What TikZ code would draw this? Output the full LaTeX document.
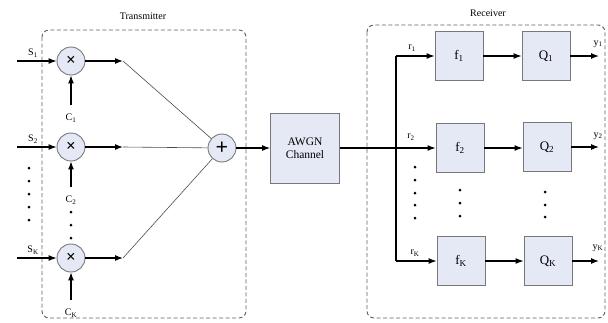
\documentclass[tikz,border=0pt]{standalone}
\usepackage{fontspec}
\setmainfont{Liberation Serif}
\usetikzlibrary{arrows,arrows.meta}
\usetikzlibrary{positioning}
\definecolor{blkfill}{RGB}{228,233,245}
\definecolor{blkline}{RGB}{120,120,120}
\definecolor{boxline}{RGB}{95,95,95}

\begin{document}
\begin{tikzpicture}[x=1pt,y=-1pt,
  mult/.style={circle,draw=blkline,fill=blkfill,line width=0.9pt,minimum size=28pt,inner sep=0pt},
  blk/.style={rectangle,draw=blkline,fill=blkfill,line width=0.9pt,minimum width=48pt,minimum height=49pt,inner sep=0pt,font=\fontsize{13}{14}\selectfont},
  dashbox/.style={draw=boxline,line width=0.9pt,dash pattern=on 4pt off 2.5pt,rounded corners=7pt},
  lbl/.style={font=\fontsize{10}{11}\selectfont,inner sep=0pt},
  sig/.style={-{Latex[length=8pt,width=6pt]},line width=1.1pt},
  wire/.style={line width=0.6pt,black!70}]
\useasboundingbox (0,0) rectangle (608,322);

% dashed boxes
\draw[dashbox] (42,30) rectangle (246,318);
\draw[dashbox] (367,25) rectangle (605,318);
\node[lbl] (tx) at (143,16) {Transmitter};
\node[lbl] (rx) at (488,13) {Receiver};

% multipliers
\node[mult] (m1) at (71,61) {\bfseries\fontsize{17}{17}\selectfont ×};
\node[mult] (m2) at (71,147) {\bfseries\fontsize{17}{17}\selectfont ×};
\node[mult] (mK) at (71,258) {\bfseries\fontsize{17}{17}\selectfont ×};

% inputs S
\coordinate (s1) at (17,61);
\coordinate (s2) at (17,147);
\coordinate (sK) at (17,258);
\draw[sig] (s1) -- (m1);
\draw[sig] (s2) -- (m2);
\draw[sig] (sK) -- (mK);
\node[lbl] (ls1) at (33,53) {S\textsubscript{1}};
\node[lbl] (ls2) at (33,139) {S\textsubscript{2}};
\node[lbl] (lsK) at (33,250) {S\textsubscript{K}};
\foreach \y in {168,181,194,207,220}
  \fill (29,\y) circle (1.5pt);

% codes C
\node[lbl,outer sep=9pt] (c1) at (71,118) {C\textsubscript{1}};
\node[lbl,outer sep=9pt] (c2) at (71,200) {C\textsubscript{2}};
\node[lbl,outer sep=9pt] (cK) at (71,313) {C\textsubscript{K}};
\draw[sig] (c1) -- (m1);
\draw[sig] (c2) -- (m2);
\draw[sig] (cK) -- (mK);
\foreach \y in {212,225,238}
  \fill (71,\y) circle (1.5pt);

% adder
\node[mult] (add) at (222,148) {\bfseries\fontsize{22}{22}\selectfont +};
\coordinate (t1) at (123,61);
\coordinate (t2) at (123,147);
\coordinate (tK) at (123,258);
\draw[sig] (m1) -- (t1);
\draw[sig] (m2) -- (t2);
\draw[sig] (mK) -- (tK);
\draw[wire] (t1) -- (add);
\draw[wire] (t2) -- (add);
\draw[wire] (tK) -- (add);

% channel
\node[blk,minimum width=69pt,minimum height=70pt,align=center,font=\fontsize{11.5}{13.5}\selectfont] (awgn) at (305,148) {AWGN\\Channel};
\draw[sig] (add) -- (awgn);

% receiver
\coordinate (b1) at (396,56);
\coordinate (b2) at (396,148);
\coordinate (bK) at (396,261);
\draw[line width=1.1pt] (awgn) -- (b2);
\draw[line width=1.1pt] (b1) -- (bK);

\node[blk] (f1) at (459,56) {f\textsubscript{1}};
\node[blk] (f2) at (460,148) {f\textsubscript{2}};
\node[blk] (fK) at (461,261) {f\textsubscript{K}};
\node[blk] (q1) at (546,56) {Q\textsubscript{1}};
\node[blk] (q2) at (547,147) {Q\textsubscript{2}};
\node[blk] (qK) at (548,261) {Q\textsubscript{K}};

\draw[sig] (b1) -- (f1);
\draw[sig] (b2) -- (f2);
\draw[sig] (bK) -- (fK);
\draw[sig] (f1) -- (q1);
\draw[sig] (f2.east) -- (q2.west |- f2.east);
\draw[sig] (fK) -- (qK);

\coordinate (o1) at (599,56);
\coordinate (o2) at (599,147);
\coordinate (oK) at (599,261);
\draw[sig] (q1) -- (o1);
\draw[sig] (q2) -- (o2);
\draw[sig] (qK) -- (oK);

\node[lbl] (lr1) at (412,48) {r\textsubscript{1}};
\node[lbl] (lr2) at (411,137) {r\textsubscript{2}};
\node[lbl] (lrK) at (415,253) {r\textsubscript{K}};
\node[lbl] (ly1) at (598,44) {y\textsubscript{1}};
\node[lbl] (ly2) at (598,136) {y\textsubscript{2}};
\node[lbl] (lyK) at (598,248) {y\textsubscript{K}};

\foreach \y in {167,180,193,205,218}
  \fill (415,\y) circle (1.5pt);
\foreach \y in {190,203,216}
  \fill (460,\y) circle (1.5pt);
\foreach \y in {192,205,217}
  \fill (545,\y) circle (1.5pt);
\end{tikzpicture}
\end{document}
